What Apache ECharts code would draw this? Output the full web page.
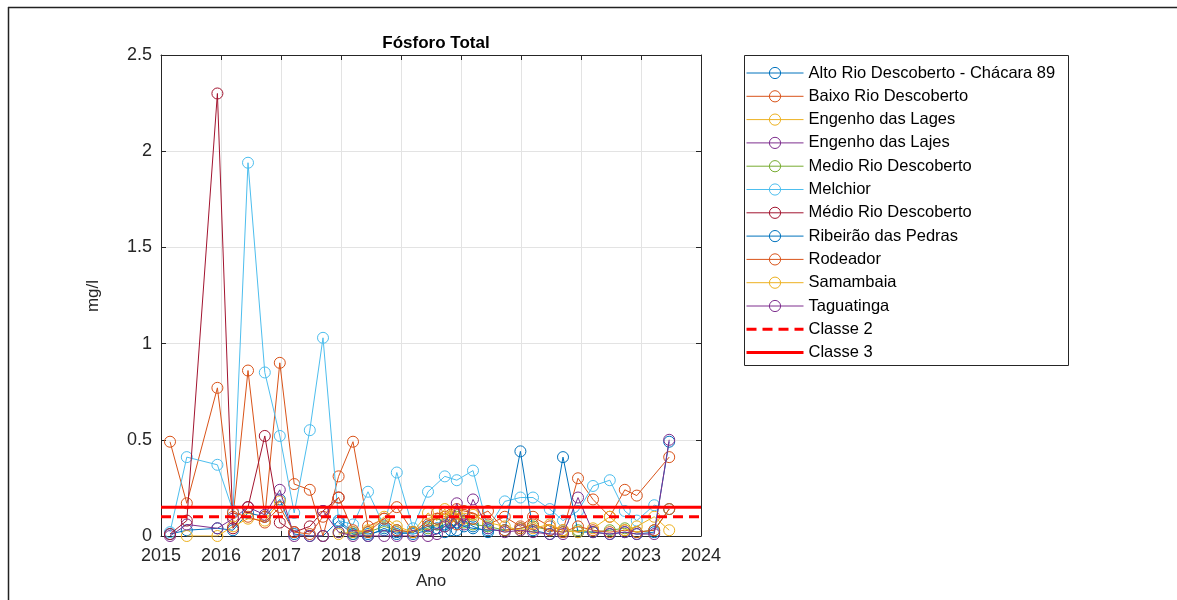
<!DOCTYPE html>
<html>
<head>
<meta charset="utf-8">
<script src="https://cdn.jsdelivr.net/npm/echarts@6/dist/echarts.min.js"></script>
<style>
html,body{margin:0;padding:0;background:#fff;}
#chart{width:1177px;height:600px;}
</style>
</head>
<body>
<div id="chart"></div>
<script>
// Sampling dates (decimal years)
const dates = [2015.15, 2015.43, 2015.94, 2016.2, 2016.45, 2016.73, 2016.98, 2017.22, 2017.48, 2017.7,
  2017.96, 2018.2, 2018.45, 2018.72, 2018.93, 2019.2, 2019.45, 2019.6, 2019.73, 2019.83,
  2019.93, 2020.05, 2020.2, 2020.45, 2020.73, 2020.99, 2021.2, 2021.48, 2021.7, 2021.95,
  2022.2, 2022.48, 2022.73, 2022.93, 2023.22, 2023.47];

const altoRio = [0.01, 0.03, 0.04, 0.03, 0.12, 0.10, 0.19, 0.01, 0.00, 0.00,
  0.08, 0.02, 0.01, 0.03, 0.02, 0.01, 0.03, 0.06, 0.02, 0.07,
  0.03, 0.08, 0.05, 0.02, null, null, null, null, null, null,
  null, null, null, null, null, null];
const baixoRio = [0.49, 0.17, 0.77, 0.10, 0.86, 0.10, 0.90, 0.27, 0.24, 0.00,
  0.31, 0.49, 0.05, 0.09, 0.15, 0.02, 0.06, 0.12, 0.10, 0.11,
  0.14, 0.13, 0.12, 0.06, 0.10, 0.05, 0.10, 0.05, 0.03, 0.30,
  0.19, 0.10, 0.24, 0.21, null, 0.41];
const engenhoLages = [null, 0.00, 0.00, 0.05, 0.09, 0.08, 0.18, null, null, null,
  null, null, null, null, null, null, null, null, null, null,
  null, null, null, null, null, null, null, null, null, null,
  null, null, null, null, null, null];
const engenhoLajes = [0.00, 0.06, 0.04, 0.09, 0.15, 0.11, 0.24, 0.00, 0.00, 0.00,
  null, null, null, null, null, null, null, null, null, null,
  null, null, null, null, null, null, null, null, null, null,
  null, null, null, null, null, null];
const medioRioSemAcento = [null, null, null, null, null, null, null, null, null, null,
  0.02, 0.01, 0.02, 0.05, 0.03, 0.02, 0.04, 0.06, 0.05, 0.08,
  0.10, 0.07, 0.06, 0.05, 0.03, 0.04, 0.05, 0.03, 0.02, 0.03,
  0.02, 0.03, 0.04, 0.02, 0.03, 0.14];
const melchior = [0.02, 0.41, 0.37, 0.13, 1.94, 0.85, 0.52, 0.12, 0.55, 1.03,
  0.08, 0.06, 0.23, 0.05, 0.33, 0.04, 0.23, null, 0.31, null,
  0.29, null, 0.34, 0.04, 0.18, 0.20, 0.20, 0.14, 0.08, 0.13,
  0.26, 0.29, 0.13, 0.08, 0.16, 0.14];
const medioRioAcento = [0.01, 0.08, 2.30, 0.04, 0.15, 0.52, 0.07, 0.02, 0.05, 0.13,
  0.20, null, null, null, null, null, null, null, null, null,
  null, null, null, null, null, null, null, null, null, null,
  null, null, null, null, null, null];
const ribeiraoPedras = [null, null, null, null, null, null, null, null, null, null,
  0.07, 0.01, 0.00, 0.04, 0.01, 0.02, 0.05, 0.04, 0.06, 0.03,
  0.07, 0.05, 0.04, 0.03, 0.03, 0.44, 0.03, 0.01, 0.41, 0.02,
  0.02, 0.01, 0.02, 0.01, 0.02, 0.49];
const rodeador = [null, null, null, 0.12, 0.10, 0.07, 0.15, 0.02, 0.01, 0.10,
  0.20, 0.03, 0.02, 0.09, 0.03, 0.02, 0.08, 0.09, 0.12, 0.10,
  0.06, 0.11, 0.09, 0.13, 0.03, 0.04, 0.06, 0.03, 0.02, 0.05,
  0.03, 0.02, 0.03, 0.02, 0.03, 0.14];
const samambaia = [null, null, null, null, null, null, null, null, null, null,
  0.01, 0.02, 0.03, 0.10, 0.05, 0.02, 0.12, 0.08, 0.14, 0.10,
  0.12, 0.09, 0.11, 0.07, 0.05, 0.03, 0.04, 0.06, 0.03, 0.02,
  0.04, 0.10, 0.03, 0.05, 0.10, 0.03];
const taguatinga = [null, null, null, null, null, null, null, null, null, 0.13,
  0.02, 0.00, 0.00, 0.00, 0.00, 0.00, 0.00, 0.01, 0.05, 0.07,
  0.17, 0.06, 0.19, 0.04, 0.02, 0.03, 0.02, 0.01, 0.01, 0.20,
  0.02, 0.01, 0.02, 0.01, 0.01, 0.50];

const seriesNames = ['Alto Rio Descoberto - Chácara 89', 'Baixo Rio Descoberto', 'Engenho das Lages',
  'Engenho das Lajes', 'Medio Rio Descoberto', 'Melchior', 'Médio Rio Descoberto',
  'Ribeirão das Pedras', 'Rodeador', 'Samambaia', 'Taguatinga'];
const seriesValues = [altoRio, baixoRio, engenhoLages, engenhoLajes, medioRioSemAcento, melchior,
  medioRioAcento, ribeiraoPedras, rodeador, samambaia, taguatinga];

const classe2 = 0.1;
const classe3 = 0.15;
const xRange = [2015, 2024];
const yTicks = [0, 0.5, 1, 1.5, 2, 2.5];

const palette = ['#0072BD', '#D95319', '#EDB120', '#7E2F8E', '#77AC30', '#4DBEEE', '#A2142F'];

function pairs(vals) {
  const out = [];
  vals.forEach((v, i) => { if (v !== null) out.push([dates[i], v]); });
  return out;
}

const series = seriesNames.map((name, i) => {
  const c = palette[i % palette.length];
  return {
    name: name,
    type: 'line',
    data: pairs(seriesValues[i]),
    symbol: 'circle',
    symbolSize: 11,
    showSymbol: true,
    lineStyle: { color: c, width: 1 },
    itemStyle: { color: 'rgba(0,0,0,0)', borderColor: c, borderWidth: 1 },
    emphasis: { disabled: true },
    z: 2 + i * 0.01
  };
});
series.push({
  name: 'Classe 2', type: 'line', symbol: 'none',
  data: [[xRange[0], classe2], [xRange[1], classe2]],
  lineStyle: { color: '#FF0000', width: 3, type: [10, 6] },
  itemStyle: { color: 'rgba(0,0,0,0)', borderWidth: 0 },
  emphasis: { disabled: true }, z: 4
});
series.push({
  name: 'Classe 3', type: 'line', symbol: 'none',
  data: [[xRange[0], classe3], [xRange[1], classe3]],
  lineStyle: { color: '#FF0000', width: 3 },
  itemStyle: { color: 'rgba(0,0,0,0)', borderWidth: 0 },
  emphasis: { disabled: true }, z: 4
});

const axisCol = '#262626';
const fontFam = 'Liberation Sans, Arial, Helvetica, sans-serif';

const legendData = seriesNames.map(n => ({ name: n }))
  .concat([
    { name: 'Classe 2', itemStyle: { opacity: 0 }, lineStyle: { width: 3, type: [10, 6] } },
    { name: 'Classe 3', itemStyle: { opacity: 0 }, lineStyle: { width: 3 } }
  ]);

const chart = echarts.init(document.getElementById('chart'), null, { renderer: 'canvas' });
chart.setOption({
  animation: false,
  backgroundColor: '#fff',
  title: {
    text: 'Fósforo Total', left: 431, top: 30, textAlign: 'center',
    textStyle: { fontFamily: fontFam, fontWeight: 'bold', fontSize: 17, color: '#000' }
  },
  grid: { left: 161, right: 476, top: 55, bottom: 64, containLabel: false },
  legend: {
    orient: 'vertical', left: 742, top: 53,
    padding: [11, 6, 2, 3],
    itemWidth: 57, itemHeight: 14, itemGap: 5.3,
    data: legendData,
    itemStyle: { borderWidth: 1 },
    lineStyle: { width: 1 },
    textStyle: { fontFamily: fontFam, fontSize: 16.5, color: '#000', lineHeight: 18 },
    selectedMode: false
  },
  xAxis: [{
    type: 'value', min: xRange[0], max: xRange[1], interval: 1,
    axisLine: { lineStyle: { color: axisCol, width: 1 } },
    axisTick: { inside: true, length: 5, lineStyle: { color: axisCol } },
    axisLabel: { color: axisCol, fontSize: 18, fontFamily: fontFam, margin: 11, formatter: v => String(v) },
    splitLine: { show: true, lineStyle: { color: '#e3e3e3', width: 1 } }
  }, {
    type: 'value', min: xRange[0], max: xRange[1], interval: 1, position: 'top',
    axisLine: { onZero: false, lineStyle: { color: axisCol, width: 1 } },
    axisTick: { inside: true, length: 5, lineStyle: { color: axisCol } },
    axisLabel: { show: false }, splitLine: { show: false }
  }],
  yAxis: [{
    type: 'value', min: yTicks[0], max: yTicks[yTicks.length - 1], interval: 0.5,
    axisLine: { show: true, lineStyle: { color: axisCol, width: 1 } },
    axisTick: { show: true, inside: true, length: 5, lineStyle: { color: axisCol } },
    axisLabel: { color: axisCol, fontSize: 18, fontFamily: fontFam, margin: 9 },
    splitLine: { show: true, lineStyle: { color: '#e3e3e3', width: 1 } }
  }, {
    type: 'value', min: yTicks[0], max: yTicks[yTicks.length - 1], interval: 0.5, position: 'right',
    axisLine: { show: true, onZero: false, lineStyle: { color: axisCol, width: 1 } },
    axisTick: { show: true, inside: true, length: 5, lineStyle: { color: axisCol } },
    axisLabel: { show: false }, splitLine: { show: false }
  }],
  graphic: [
    { type: 'rect', left: 742, top: 53, shape: { width: 324, height: 310 },
      style: { fill: 'none', stroke: axisCol, lineWidth: 1 }, silent: true, z: -1 },
    { type: 'text', x: 93, y: 296, rotation: Math.PI / 2,
      style: { text: 'mg/l', fill: axisCol, font: '17px ' + fontFam, textAlign: 'center', textVerticalAlign: 'middle' } },
    { type: 'text', x: 431, y: 581,
      style: { text: 'Ano', fill: axisCol, font: '17px ' + fontFam, textAlign: 'center', textVerticalAlign: 'middle' } },
    { type: 'line', shape: { x1: 8, y1: 7.5, x2: 1177, y2: 7.5 }, style: { stroke: '#222', lineWidth: 1.5 } },
    { type: 'line', shape: { x1: 8.5, y1: 7, x2: 8.5, y2: 600 }, style: { stroke: '#222', lineWidth: 1.5 } }
  ],
  series: series
});
</script>
</body>
</html>
